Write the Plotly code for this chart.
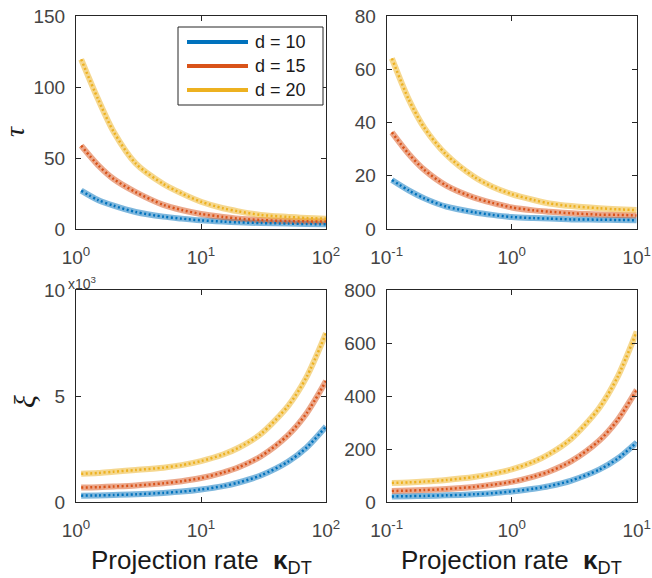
import plotly.graph_objects as go

W, H = 652, 578

# ---------------- data ----------------
kappa_left = [1.1, 1.5, 2, 3, 5, 7, 10, 15, 20, 30, 50, 70, 100]
kappa_right = [0.11, 0.15, 0.2, 0.3, 0.5, 0.7, 1, 1.5, 2, 3, 5, 7, 10]

tau_l_d10 = [27.0, 20.4, 16.4, 12.0, 8.7, 7.3, 6.1, 5.2, 4.7, 4.2, 3.8, 3.5, 3.3]
tau_l_d15 = [58.7, 45.0, 35.2, 26.0, 17.0, 13.4, 10.6, 8.5, 7.3, 6.3, 5.6, 5.4, 5.2]
tau_l_d20 = [119.5, 91.5, 68.5, 46.2, 31.7, 25.1, 19.2, 14.6, 12.4, 9.9, 8.5, 7.7, 7.3]

tau_r_d10 = [18.4, 14.5, 11.5, 8.4, 6.3, 5.3, 4.5, 4.1, 3.9, 3.6, 3.5, 3.4, 3.3]
tau_r_d15 = [36.3, 28.2, 22.2, 16.3, 11.8, 9.8, 8.1, 7.0, 6.5, 5.9, 5.4, 5.3, 5.1]
tau_r_d20 = [64.1, 48.7, 38.0, 27.9, 19.6, 15.9, 13.1, 10.9, 9.6, 8.6, 7.8, 7.4, 7.1]

xi_l_d10 = [300, 310, 330, 360, 430, 490, 590, 750, 920, 1250, 1910, 2570, 3560]
xi_l_d15 = [680, 700, 730, 780, 880, 980, 1130, 1390, 1640, 2150, 3170, 4190, 5710]
xi_l_d20 = [1330, 1370, 1430, 1510, 1620, 1740, 1930, 2240, 2560, 3200, 4550, 5900, 7960]

xi_r_d10 = [21, 22, 23, 25, 29, 33, 40, 50, 60, 81, 122, 163, 225]
xi_r_d15 = [41.5, 43, 45, 49, 57, 65, 76, 96, 115, 154, 231, 308, 423]
xi_r_d20 = [72, 74, 77, 83, 94, 106, 123, 152, 181, 239, 354, 470, 643]

series_names = ["d = 10", "d = 15", "d = 20"]
series_colors = ["#0072BD", "#D95319", "#EDB120"]

xticks_left = [1, 10, 100]
xticks_left_text = ["10<sup>0</sup>", "10<sup>1</sup>", "10<sup>2</sup>"]
xticks_right = [0.1, 1, 10]
xticks_right_text = ["10<sup>-1</sup>", "10<sup>0</sup>", "10<sup>1</sup>"]

yticks_tl = [0, 50, 100, 150]
yticks_tr = [0, 20, 40, 60, 80]
yticks_bl = [0, 5000, 10000]
yticks_bl_text = ["0", "5", "10"]
yticks_br = [0, 200, 400, 600, 800]

x_title = "Projection rate&nbsp;&nbsp;<b>κ</b><sub>DT</sub>"

# ---------------- layout geometry (pixels) ----------------
def px_x(p):
    return p / W

def px_y(p):
    return 1 - p / H

left_dom = [px_x(76), px_x(326)]
right_dom = [px_x(386.7), px_x(636.7)]
top_dom = [px_y(229), px_y(16)]
bot_dom = [px_y(502), px_y(290)]

fig = go.Figure()

panels = [
    ("x", "y", kappa_left, [tau_l_d10, tau_l_d15, tau_l_d20]),
    ("x2", "y2", kappa_right, [tau_r_d10, tau_r_d15, tau_r_d20]),
    ("x3", "y3", kappa_left, [xi_l_d10, xi_l_d15, xi_l_d20]),
    ("x4", "y4", kappa_right, [xi_r_d10, xi_r_d15, xi_r_d20]),
]

for xa, ya, xs, ys_list in panels:
    for name, col, ys in zip(series_names, series_colors, ys_list):
        fig.add_trace(go.Scatter(
            x=xs, y=ys, xaxis=xa, yaxis=ya, mode="lines", name=name,
            line=dict(color=col, width=6, shape="spline", smoothing=0.8),
            opacity=0.5, showlegend=False, hoverinfo="skip"))
    for name, col, ys in zip(series_names, series_colors, ys_list):
        fig.add_trace(go.Scatter(
            x=xs, y=ys, xaxis=xa, yaxis=ya, mode="lines", name=name,
            line=dict(color=col, width=2.5, dash="2px,2.5px", shape="spline", smoothing=0.8),
            showlegend=False, hoverinfo="skip"))

axis_col = "#262626"
tick_font = dict(family="Liberation Sans, Arial, sans-serif", size=19, color="#444444")

def xaxis(dom, anchor, rng, vals, text):
    return dict(domain=dom, anchor=anchor, type="log", range=rng,
                tickvals=vals, ticktext=text, ticks="inside", ticklen=5,
                tickcolor=axis_col, showline=True, linecolor=axis_col, linewidth=1,
                mirror="ticks", showgrid=False, zeroline=False, tickfont=tick_font,
                ticklabelstandoff=11, automargin=False)

def yaxis(dom, anchor, rng, vals, text=None):
    d = dict(domain=dom, anchor=anchor, range=rng, tickvals=vals,
             ticks="inside", ticklen=5, tickcolor=axis_col, showline=True,
             linecolor=axis_col, linewidth=1, mirror="ticks", showgrid=False,
             zeroline=False, tickfont=tick_font, ticklabelstandoff=6, automargin=False)
    if text is not None:
        d["ticktext"] = text
    return d

fig.update_layout(
    width=W, height=H,
    margin=dict(l=0, r=0, t=0, b=0),
    paper_bgcolor="white", plot_bgcolor="white",
    showlegend=False,
    xaxis=xaxis(left_dom, "y", [0, 2], xticks_left, xticks_left_text),
    yaxis=yaxis(top_dom, "x", [0, 150], yticks_tl),
    xaxis2=xaxis(right_dom, "y2", [-1, 1], xticks_right, xticks_right_text),
    yaxis2=yaxis(top_dom, "x2", [0, 80], yticks_tr),
    xaxis3=xaxis(left_dom, "y3", [0, 2], xticks_left, xticks_left_text),
    yaxis3=yaxis(bot_dom, "x3", [0, 10000], yticks_bl, yticks_bl_text),
    xaxis4=xaxis(right_dom, "y4", [-1, 1], xticks_right, xticks_right_text),
    yaxis4=yaxis(bot_dom, "x4", [0, 800], yticks_br),
)

annotations = []
# axis titles
for cx in [201, 511.7]:
    annotations.append(dict(x=px_x(cx), y=px_y(561), xref="paper", yref="paper",
                            text=x_title, showarrow=False, xanchor="center", yanchor="middle",
                            font=dict(family="Liberation Sans, Arial, sans-serif", size=26, color="#1a1a1a")))
annotations.append(dict(x=px_x(15), y=px_y(132), xref="paper", yref="paper", text="<i>τ</i>",
                        showarrow=False, textangle=-90, xanchor="center", yanchor="middle",
                        font=dict(family="Liberation Serif, serif", size=28, color="#1a1a1a")))
annotations.append(dict(x=px_x(24), y=px_y(402), xref="paper", yref="paper", text="<i>ξ</i>",
                        showarrow=False, textangle=-90, xanchor="center", yanchor="middle",
                        font=dict(family="Liberation Serif, serif", size=30, color="#1a1a1a")))
# exponent label
annotations.append(dict(x=px_x(66), y=px_y(283), xref="paper", yref="paper", text="x10<sup>3</sup>",
                        showarrow=False, xanchor="left", yanchor="middle",
                        font=dict(family="Liberation Sans, Arial, sans-serif", size=14, color="#444444")))

# legend (drawn box)
shapes = [dict(type="rect", xref="paper", yref="paper", x0=px_x(178), x1=px_x(323),
               y0=px_y(105), y1=px_y(27), line=dict(color="#262626", width=1),
               fillcolor="white", layer="above")]
leg_y = [42, 66, 90]
for yy, name, col in zip(leg_y, series_names, series_colors):
    shapes.append(dict(type="line", xref="paper", yref="paper", x0=px_x(187), x1=px_x(248),
                       y0=px_y(yy), y1=px_y(yy), line=dict(color=col, width=4), layer="above"))
    annotations.append(dict(x=px_x(253), y=px_y(yy), xref="paper", yref="paper", text=name,
                            showarrow=False, xanchor="left", yanchor="middle",
                            font=dict(family="Liberation Sans, Arial, sans-serif", size=18, color="#1a1a1a")))

fig.update_layout(annotations=annotations, shapes=shapes)

fig.write_html("out.html")
